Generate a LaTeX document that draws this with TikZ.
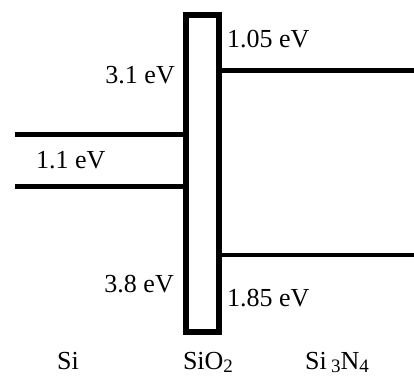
\documentclass[tikz,border=0pt]{standalone}
\usepackage{fontspec}
\setmainfont{Liberation Serif}
\usetikzlibrary{positioning,calc}
\newcommand{\lowsub}[1]{\raisebox{-0.32ex}{\fontsize{19}{20}\selectfont #1}}

\begin{document}
\begin{tikzpicture}[
  x=1pt, y=-1pt,
  barrier/.style={draw, line width=6pt, rectangle, minimum width=33pt, minimum height=317pt, inner sep=0pt},
  band/.style={line width=5pt},
  lbl/.style={inner sep=0pt, font=\fontsize{26}{30}\selectfont}
]
\useasboundingbox (0,0) rectangle (414,378);
\node[barrier] (ox) at (202.5,173.6) {};

% Si bands
\coordinate (siC) at (15,134);
\coordinate (siV) at (15,186);
\draw[band] (siC) -- (siC -| ox.west);
\draw[band] (siV) -- (siV -| ox.west);

% Si3N4 bands
\coordinate (snC) at (414,70);
\coordinate (snV) at (414,255);
\draw[band] (ox.east |- snC) -- (snC);
\draw[band, line width=4.5pt] (ox.east |- snV) -- (snV);

% offsets
\node[lbl, anchor=base west] (ec) at (227,47) {1.05 eV};
\node[lbl, anchor=base east] (ecsi) at (175,83) {3.1 eV};
\node[lbl, anchor=base west] (eg) at (36,168) {1.1 eV};
\node[lbl, anchor=base east] (evsi) at (174,292) {3.8 eV};
\node[lbl, anchor=base west] (ev) at (227,306) {1.85 eV};

% materials
\node[lbl, anchor=base] (si) at (68,369) {Si};
\node[lbl, anchor=base] (sio) at (208,369) {SiO\lowsub{2}};
\node[lbl, anchor=base] (sin) at (337,369) {Si\,\lowsub{3}N\lowsub{4}};
\end{tikzpicture}
\end{document}
